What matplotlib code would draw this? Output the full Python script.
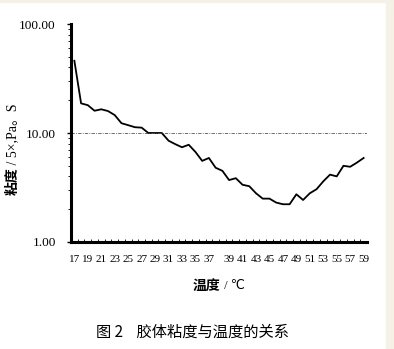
import matplotlib.pyplot as plt
import numpy as np
from matplotlib.ticker import LogLocator, NullFormatter, FixedLocator

# x categories as drawn (the 37 -> 39 step holds two points)
temps = list(range(17, 38)) + [38, 38.5] + list(range(39, 60))
viscosity = [46.0, 18.7, 18.0, 16.0, 16.5, 15.9, 14.6, 12.3, 11.8, 11.3,
             11.2, 10.0, 10.0, 10.0, 8.5, 7.9, 7.4, 7.8, 6.7, 5.55,
             5.9, 4.8, 4.5, 3.7, 3.85, 3.35, 3.25, 2.8, 2.5, 2.5,
             2.3, 2.22, 2.22, 2.74, 2.43, 2.8, 3.05, 3.6, 4.15, 4.0,
             5.0, 4.9, 5.35, 5.9]
tick_labels = [17, 19, 21, 23, 25, 27, 29, 31, 33, 35, 37,
               39, 41, 43, 45, 47, 49, 51, 53, 55, 57, 59]
y_ticks = [1, 10, 100]

serif = 'Liberation Serif'
cjk = ['Noto Sans CJK SC', 'DejaVu Sans']

fig = plt.figure(figsize=(3.94, 3.49), dpi=100)
fig.patch.set_facecolor('white')
# beige page border
fig.patches.append(plt.Rectangle((386 / 394, 0), 1, 1, transform=fig.transFigure,
                                 color='#f6f1e6', zorder=0))
fig.patches.append(plt.Rectangle((0, 1 - 2 / 349), 1, 1, transform=fig.transFigure,
                                 color='#f6f1e6', zorder=0))

ax = fig.add_axes([71 / 394, 107 / 349, 296 / 394, 218 / 349])
idx = np.arange(len(temps))
ax.plot(idx, viscosity, color='black', linewidth=1.3)

ax.set_yscale('log')
ax.set_ylim(1, 100)
ax.set_xlim(-0.5, len(temps) - 0.5)
ax.axhline(10, color='#555555', linestyle=(0, (4, 1.5, 1, 1.5)), linewidth=0.6)

ax.set_yticks(y_ticks)
ax.set_yticklabels(['%.2f' % v for v in y_ticks], fontfamily=serif, fontsize=9.5)
ax.yaxis.set_minor_locator(LogLocator(base=10, subs=np.arange(2, 10)))
ax.yaxis.set_minor_formatter(NullFormatter())
ax.tick_params(axis='y', which='major', length=3, width=1, pad=8)
ax.tick_params(axis='y', which='minor', length=2, width=0.6)

pos = [temps.index(t) for t in tick_labels]
ax.set_xticks(pos)
ax.set_xticklabels([str(t) for t in tick_labels], fontfamily=serif, fontsize=8)
ax.xaxis.set_minor_locator(FixedLocator(np.arange(0.5, len(temps) - 0.5, 1)))
ax.tick_params(axis='x', which='major', length=0, pad=9)
ax.tick_params(axis='x', which='minor', direction='in', length=2.5, width=0.6)

for s in ['top', 'right']:
    ax.spines[s].set_visible(False)
ax.spines['left'].set_linewidth(2.2)
ax.spines['bottom'].set_linewidth(2.2)

# y label: bold part + regular part
fig.text(13 / 394, 1 - 195 / 349, '粘度', rotation=90, ha='center', va='bottom',
         fontsize=10, fontweight='bold', family=cjk)
fig.text(13 / 394, 1 - 168 / 349, ' / 5×,Pa。S', rotation=90, ha='center', va='bottom',
         fontsize=10, family=[serif, 'Noto Sans CJK SC'])

fig.text(220 / 394, 1 - 286 / 349, '温度', ha='right', va='center',
         fontsize=10, fontweight='bold', family=cjk)
fig.text(221 / 394, 1 - 286 / 349, ' / ℃', ha='left', va='center',
         fontsize=9, family=[serif, 'DejaVu Sans'])

fig.text(192 / 394, 1 - 332 / 349, '图 2    胶体粘度与温度的关系', ha='center', va='center',
         fontsize=11, family=cjk)

fig.savefig('out.png', dpi=100)
